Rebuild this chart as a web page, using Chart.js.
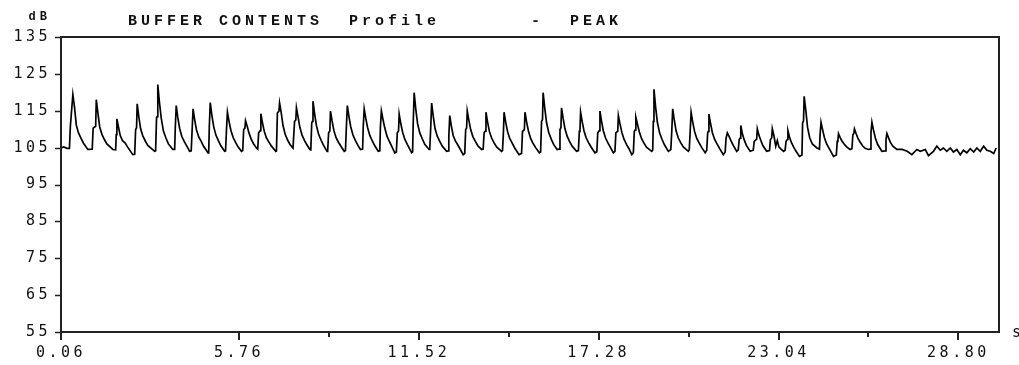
<!DOCTYPE html>
<html>
<head>
<meta charset="utf-8">
<script src="https://cdn.jsdelivr.net/npm/chart.js@4/dist/chart.umd.min.js"></script>
<style>
  html, body { margin: 0; padding: 0; background: #fff; }
  #wrap { width: 1019px; height: 365px; }
</style>
</head>
<body>
<div id="wrap"><canvas id="bufferChart" width="1019" height="365"></canvas></div>
<script>
// time (s) of each sample, one line per peak
const timeS = [
  0.06, 0.15, 0.25,
  0.33, 0.36, 0.44, 0.49, 0.55, 0.62, 0.70, 0.78, 0.92,
  1.06, 1.09, 1.17, 1.19, 1.24, 1.30, 1.37, 1.45, 1.53, 1.72,
  1.81, 1.83, 1.85, 1.90, 1.96, 2.03, 2.11, 2.19, 2.36,
  2.42, 2.45, 2.48, 2.50, 2.55, 2.61, 2.68, 2.76, 2.84, 3.06,
  3.09, 3.12, 3.14, 3.16, 3.21, 3.27, 3.34, 3.42, 3.50, 3.64,
  3.70, 3.72, 3.75, 3.80, 3.86, 3.93, 4.01, 4.09, 4.18,
  4.23, 4.26, 4.29, 4.34, 4.40, 4.47, 4.55, 4.63, 4.77,
  4.79, 4.81, 4.84, 4.89, 4.95, 5.02, 5.10, 5.18, 5.30,
  5.33, 5.36, 5.39, 5.44, 5.50, 5.57, 5.65, 5.73, 5.84,
  5.88, 5.91, 5.95, 5.97, 6.02, 6.08, 6.15, 6.23, 6.32,
  6.36, 6.39, 6.44, 6.46, 6.51, 6.57, 6.64, 6.72, 6.80, 6.94,
  6.96, 6.99, 7.04, 7.06, 7.11, 7.17, 7.24, 7.32, 7.40, 7.49,
  7.51, 7.54, 7.58, 7.60, 7.65, 7.71, 7.78, 7.86, 7.94, 8.03,
  8.06, 8.09, 8.11, 8.13, 8.18, 8.24, 8.31, 8.39, 8.47, 8.58,
  8.60, 8.63, 8.67, 8.69, 8.74, 8.80, 8.87, 8.95, 9.03, 9.13,
  9.17, 9.20, 9.23, 9.28, 9.34, 9.41, 9.49, 9.57, 9.65,
  9.72, 9.74, 9.77, 9.82, 9.88, 9.95, 10.03, 10.11, 10.22,
  10.27, 10.29, 10.32, 10.37, 10.43, 10.50, 10.58, 10.66, 10.75,
  10.80, 10.83, 10.87, 10.89, 10.94, 11.00, 11.07, 11.15, 11.29,
  11.32, 11.34, 11.37, 11.42, 11.48, 11.55, 11.63, 11.71, 11.85,
  11.87, 11.90, 11.93, 11.98, 12.04, 12.11, 12.19, 12.27, 12.41,
  12.46, 12.48, 12.51, 12.56, 12.62, 12.69, 12.77, 12.85, 12.94,
  12.99, 13.02, 13.05, 13.07, 13.12, 13.18, 13.25, 13.33, 13.41, 13.53,
  13.58, 13.61, 13.65, 13.67, 13.72, 13.78, 13.85, 13.93, 14.01, 14.17,
  14.20, 14.23, 14.25, 14.30, 14.36, 14.43, 14.51, 14.59, 14.73,
  14.81, 14.84, 14.90, 14.92, 14.97, 15.03, 15.10, 15.18, 15.26, 15.38,
  15.42, 15.45, 15.48, 15.50, 15.55, 15.61, 15.68, 15.76, 15.84, 15.95,
  16.01, 16.04, 16.07, 16.09, 16.14, 16.20, 16.27, 16.35, 16.43, 16.57,
  16.63, 16.66, 16.68, 16.70, 16.75, 16.81, 16.88, 16.96, 17.04, 17.16,
  17.22, 17.25, 17.30, 17.32, 17.37, 17.43, 17.50, 17.58, 17.66, 17.75,
  17.80, 17.83, 17.89, 17.91, 17.96, 18.02, 18.09, 18.17, 18.25, 18.34,
  18.39, 18.42, 18.45, 18.47, 18.52, 18.58, 18.65, 18.73, 18.81, 18.98,
  19.01, 19.03, 19.05, 19.10, 19.16, 19.23, 19.31, 19.39, 19.51,
  19.59, 19.62, 19.65, 19.70, 19.76, 19.83, 19.91, 19.99, 20.15,
  20.18, 20.21, 20.24, 20.29, 20.35, 20.42, 20.50, 20.58, 20.69,
  20.74, 20.77, 20.79, 20.81, 20.86, 20.92, 20.99, 21.07, 21.15, 21.27,
  21.33, 21.36, 21.40, 21.46, 21.53, 21.61, 21.70,
  21.75, 21.78, 21.81, 21.83, 21.88, 21.94, 22.01, 22.13,
  22.23, 22.26, 22.34, 22.36, 22.41, 22.47, 22.54, 22.66,
  22.75, 22.78, 22.82, 22.84, 22.89, 22.95, 23.00, 23.05, 23.12, 23.20,
  23.25, 23.28, 23.32, 23.34, 23.39, 23.45, 23.52, 23.60, 23.71,
  23.79, 23.81, 23.84, 23.86, 23.91, 23.97, 24.04, 24.12, 24.27,
  24.35, 24.37, 24.40, 24.45, 24.51, 24.58, 24.66, 24.80,
  24.89, 24.92, 24.94, 24.96, 25.01, 25.07, 25.14, 25.22, 25.33,
  25.39, 25.42, 25.45, 25.47, 25.52, 25.58, 25.65, 25.73, 25.81, 25.92,
  25.97, 26.00, 26.03, 26.08, 26.14, 26.21, 26.35,
  26.46, 26.48, 26.51, 26.56, 26.62, 26.70, 26.83,
  27.00, 27.16, 27.31, 27.47, 27.58, 27.74, 27.84, 28.00, 28.11, 28.22,
  28.32, 28.43, 28.54, 28.64, 28.75, 28.86, 28.96, 29.07, 29.18, 29.29,
  29.39, 29.50, 29.61, 29.71, 29.82, 29.93, 30.01
];

// level (dB), same layout as timeS
const levelDb = [
  104.9, 105.2, 104.8,
  104.8, 110.8, 119.4, 116.2, 111.1, 109.0, 107.6, 106.2, 104.5,
  104.6, 110.3, 110.8, 118.0, 114.5, 110.6, 108.6, 107.2, 106.0, 104.5,
  104.4, 108.5, 112.8, 110.6, 108.2, 106.9, 106.3, 105.2, 103.1,
  103.2, 109.9, 110.4, 116.9, 113.5, 110.1, 108.2, 106.8, 105.6, 104.0,
  104.1, 113.1, 113.4, 122.1, 117.5, 113.0, 109.5, 107.6, 106.0, 104.5,
  104.5, 110.3, 116.4, 113.2, 110.2, 108.0, 106.6, 105.4, 104.0,
  104.1, 109.9, 115.5, 112.6, 109.8, 107.9, 106.7, 105.3, 103.6,
  103.7, 110.8, 117.2, 113.9, 110.7, 108.4, 106.9, 105.5, 104.0,
  104.1, 109.9, 114.6, 112.2, 109.7, 107.8, 106.4, 105.2, 104.0,
  104.2, 109.9, 110.3, 112.3, 110.9, 109.0, 107.3, 106.0, 104.9,
  104.6, 109.0, 109.6, 114.2, 111.8, 109.4, 107.6, 106.5, 105.4, 104.0,
  104.1, 114.4, 114.9, 117.1, 114.6, 111.0, 108.6, 107.0, 105.8, 104.9,
  104.9, 112.1, 112.5, 115.8, 113.4, 110.5, 108.4, 106.9, 105.7, 104.5,
  104.4, 111.7, 112.1, 117.6, 114.3, 111.0, 108.6, 107.0, 105.6, 104.0,
  104.1, 109.0, 109.5, 114.9, 112.3, 109.6, 107.7, 106.4, 105.3, 104.0,
  104.2, 110.8, 116.4, 113.5, 110.6, 108.4, 106.9, 105.6, 104.5,
  104.6, 110.8, 115.5, 113.0, 110.4, 108.3, 106.8, 105.5, 104.0,
  104.1, 110.8, 114.9, 112.7, 110.3, 108.1, 106.6, 105.2, 103.6,
  103.8, 109.0, 109.5, 114.1, 111.6, 109.2, 107.3, 105.9, 103.6,
  103.8, 111.7, 119.9, 115.6, 111.5, 109.0, 107.4, 105.9, 104.5,
  104.7, 110.3, 117.1, 113.6, 110.1, 108.1, 106.7, 105.4, 104.0,
  104.1, 108.1, 113.7, 110.9, 108.3, 106.8, 105.7, 104.5, 103.1,
  103.4, 109.9, 110.3, 114.9, 112.5, 109.9, 108.0, 106.7, 105.5, 104.5,
  104.6, 109.0, 109.5, 114.6, 112.0, 109.4, 107.6, 106.3, 105.2, 104.0,
  104.2, 109.4, 114.6, 112.0, 109.4, 107.5, 106.2, 104.9, 103.1,
  103.4, 109.4, 109.9, 114.6, 112.0, 109.5, 107.5, 106.1, 105.0, 103.6,
  103.8, 112.1, 112.6, 119.9, 115.9, 111.8, 109.1, 107.3, 105.8, 104.5,
  104.6, 109.9, 110.4, 115.8, 113.0, 110.1, 108.1, 106.6, 105.4, 104.0,
  104.2, 109.4, 109.8, 114.6, 112.1, 109.5, 107.6, 106.3, 105.1, 103.6,
  103.9, 109.0, 109.6, 114.9, 112.2, 109.5, 107.6, 106.2, 105.0, 103.6,
  104.0, 109.0, 109.5, 113.7, 111.5, 109.2, 107.3, 105.9, 104.7, 103.1,
  103.6, 109.4, 109.8, 113.2, 111.4, 109.3, 107.5, 106.2, 105.1, 104.0,
  104.3, 112.1, 120.8, 116.2, 111.8, 109.0, 107.2, 105.7, 104.0,
  104.5, 109.4, 115.5, 112.5, 109.5, 107.6, 106.3, 105.2, 104.0,
  104.4, 109.4, 114.6, 112.0, 109.4, 107.5, 106.2, 105.0, 103.6,
  104.3, 109.0, 109.4, 114.1, 111.6, 109.1, 107.3, 106.0, 104.8, 103.1,
  103.8, 107.6, 109.0, 108.0, 106.6, 105.3, 104.0,
  104.4, 107.2, 107.6, 111.0, 108.8, 107.1, 105.6, 104.0,
  104.3, 106.7, 107.3, 110.1, 108.4, 107.0, 105.5, 104.0,
  104.2, 107.2, 107.6, 110.1, 108.3, 105.4, 106.9, 105.2, 104.6, 104.0,
  104.3, 106.7, 107.2, 109.6, 107.9, 106.4, 105.2, 104.0, 102.6,
  103.0, 111.7, 112.3, 118.9, 115.3, 110.4, 107.6, 106.0, 104.9,
  104.6, 108.5, 111.9, 109.9, 107.7, 106.0, 104.8, 102.6,
  103.0, 106.7, 107.0, 108.8, 107.8, 106.8, 106.0, 105.2, 104.5,
  104.7, 108.5, 108.8, 110.1, 108.9, 107.6, 106.5, 105.5, 104.8, 104.5,
  104.6, 109.0, 111.9, 109.8, 107.6, 105.9, 104.0,
  104.1, 107.2, 108.8, 107.7, 106.5, 105.4, 104.5,
  104.5, 104.0, 103.1, 104.5, 104.0, 104.5, 102.8, 104.0, 105.4, 104.3,
  104.9, 104.0, 104.9, 103.8, 104.5, 103.1, 104.3, 103.6, 104.7, 103.8,
  104.9, 104.0, 105.4, 104.3, 104.0, 103.4, 104.9
];

const xTickValues = [0.06, 5.76, 8.64, 11.52, 14.40, 17.28, 20.16, 23.04, 25.92, 28.80];
const xTickLabels = ["0.06", "5.76", "11.52", "17.28", "23.04", "28.80"];
const yTickValues = [55, 65, 75, 85, 95, 105, 115, 125, 135];

const titleText = "BUFFER CONTENTS  Profile       -  PEAK";
const yUnit = "dB";
const xUnit = "s";

const inkColor = "#111";
const labelFont = "'DejaVu Sans Mono', 'Liberation Mono', monospace";
const titleFont = "'Liberation Mono', 'DejaVu Sans Mono', monospace";

const points = [];
const n = Math.min(timeS.length, levelDb.length);
for (let i = 0; i < n; i++) {
  points.push({ x: timeS[i], y: levelDb[i] });
}

function isMajor(v) {
  return xTickLabels.indexOf(v.toFixed(2)) !== -1;
}

// frame, tick marks and the loose labels round the plot
const framePlugin = {
  id: "frame",
  beforeDraw(chart) {
    chart.ctx.letterSpacing = "3.5px";
  },
  afterDraw(chart) {
    const ctx = chart.ctx;
    const area = chart.chartArea;
    const xs = chart.scales.x;
    const ys = chart.scales.y;

    ctx.save();
    ctx.strokeStyle = "#222";
    ctx.lineWidth = 2;
    ctx.strokeRect(area.left, area.top, area.right - area.left, area.bottom - area.top);

    // x tick marks
    ctx.lineWidth = 2;
    xTickValues.forEach((v) => {
      const px = Math.round(xs.getPixelForValue(v));
      const len = isMajor(v) ? 8 : 5;
      ctx.beginPath();
      ctx.moveTo(px, area.bottom);
      ctx.lineTo(px, area.bottom + len);
      ctx.stroke();
    });

    // y tick marks
    ctx.lineWidth = 1.5;
    yTickValues.forEach((v) => {
      const py = Math.round(ys.getPixelForValue(v)) + 0.5;
      ctx.beginPath();
      ctx.moveTo(area.left - 6, py);
      ctx.lineTo(area.left, py);
      ctx.stroke();
    });

    ctx.fillStyle = inkColor;
    ctx.letterSpacing = "4px";
    ctx.textBaseline = "middle";

    ctx.font = "bold 15px " + titleFont;
    ctx.textAlign = "left";
    ctx.fillText(titleText, 128, 21);

    ctx.font = "bold 12px " + titleFont;
    ctx.textAlign = "right";
    ctx.fillText(yUnit, 51, 17);

    ctx.font = "15px " + labelFont;
    ctx.textAlign = "left";
    ctx.fillText(xUnit, 1012, 333);
    ctx.restore();
  },
};

new Chart(document.getElementById("bufferChart"), {
  type: "line",
  data: {
    datasets: [
      {
        data: points,
        borderColor: "#000",
        borderWidth: 1.7,
        pointRadius: 0,
        tension: 0,
        fill: false,
      },
    ],
  },
  options: {
    responsive: false,
    animation: false,
    layout: { padding: { left: 0, right: 20, top: 37, bottom: 0 } },
    plugins: {
      legend: { display: false },
      tooltip: { enabled: false },
    },
    scales: {
      x: {
        type: "linear",
        min: 0.06,
        max: 30.1,
        afterBuildTicks: (scale) => {
          scale.ticks = xTickValues.map((v) => ({ value: v }));
        },
        afterFit: (scale) => {
          scale.height = 33;
        },
        ticks: {
          autoSkip: false,
          maxRotation: 0,
          padding: 12,
          color: inkColor,
          font: { family: labelFont, size: 15 },
          callback: (v) => (isMajor(v) ? v.toFixed(2) : ""),
        },
        grid: { display: false, drawTicks: false },
        border: { display: false },
      },
      y: {
        min: 55,
        max: 135,
        afterBuildTicks: (scale) => {
          scale.ticks = yTickValues.map((v) => ({ value: v }));
        },
        afterFit: (scale) => {
          scale.width = 61;
        },
        ticks: {
          padding: 10,
          color: inkColor,
          font: { family: labelFont, size: 15 },
        },
        grid: { display: false, drawTicks: false },
        border: { display: false },
      },
    },
  },
  plugins: [framePlugin],
});
</script>
</body>
</html>
